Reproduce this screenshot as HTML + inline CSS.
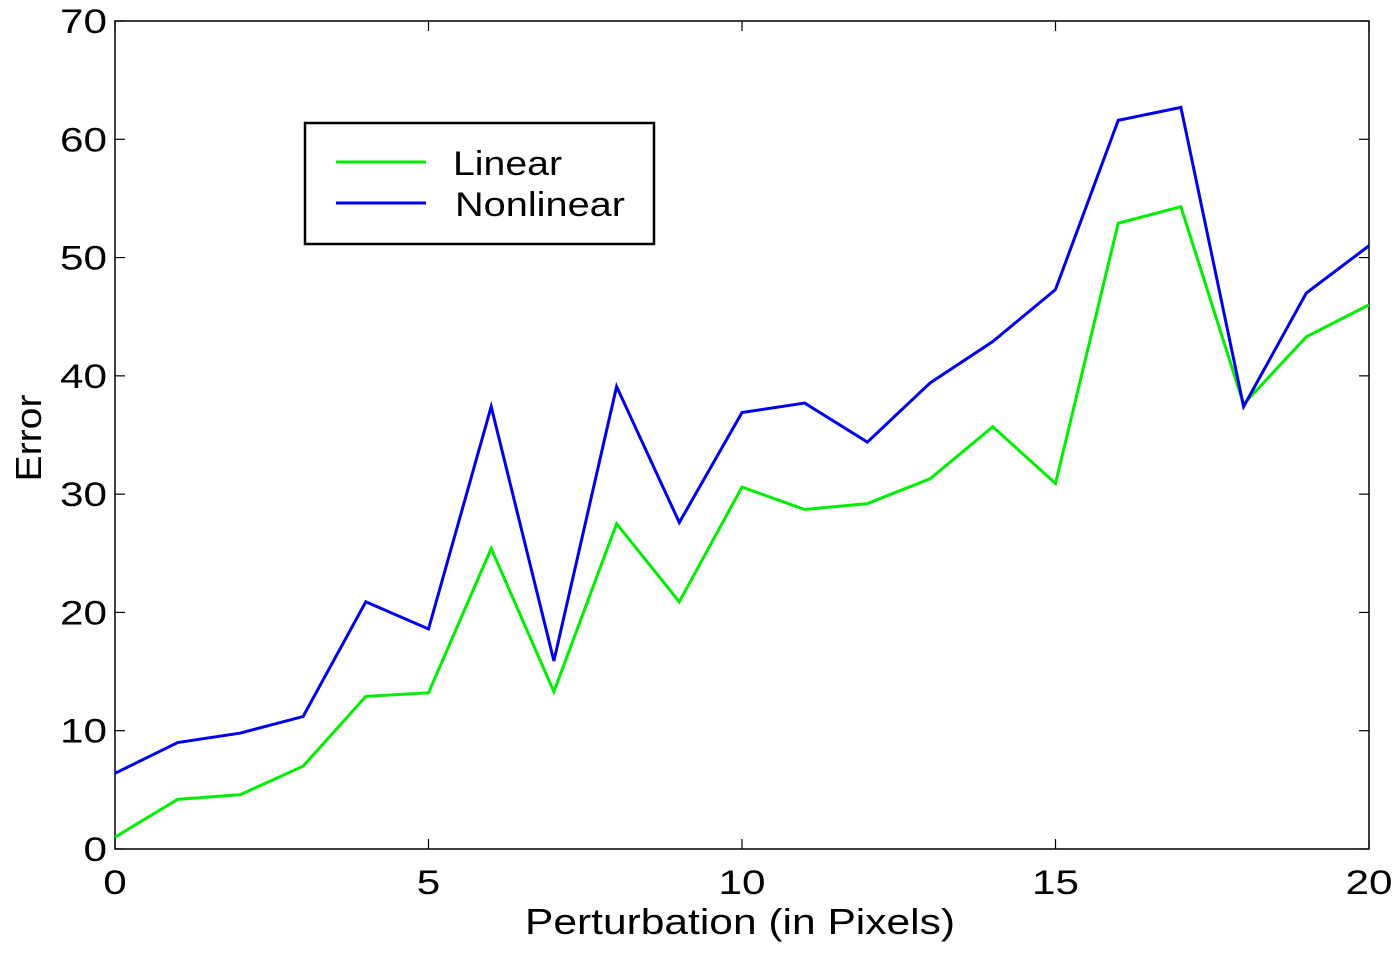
<!DOCTYPE html>
<html><head><meta charset="utf-8"><style>
html,body{margin:0;padding:0;background:#fff;}
svg{display:block;font-family:"Liberation Sans",sans-serif;}
</style></head><body>
<svg id="chart" width="1398" height="954"></svg>
<script>
const xValues=[0,1,2,3,4,5,6,7,8,9,10,11,12,13,14,15,16,17,18,19,20];
const linearValues=[1.0,4.2,4.6,7.0,12.9,13.2,25.4,13.3,27.5,20.9,30.6,28.7,29.2,31.3,35.7,30.9,52.9,54.3,37.6,43.3,46.0];
const nonlinearValues=[6.4,9.0,9.8,11.2,20.9,18.6,37.4,15.9,39.1,27.6,36.9,37.7,34.4,39.4,42.9,47.3,61.6,62.7,37.4,47.0,51.0];
const xTicks=[0,5,10,15,20];
const yTicks=[0,10,20,30,40,50,60,70];
const NS="http://www.w3.org/2000/svg";
const svg=document.getElementById('chart');
const L=115,R=1369,T=21,B=849;
const sx=v=>L+(v-0)/(20-0)*(R-L);
const sy=v=>B-(v-0)/(70-0)*(B-T);
function mk(tag,attrs,parent){const e=document.createElementNS(NS,tag);for(const k in attrs)e.setAttribute(k,attrs[k]);(parent||svg).appendChild(e);return e;}
const frame=mk('rect',{x:L,y:T,width:R-L,height:B-T,fill:'none',stroke:'#000','stroke-width':1.5});


xTicks.forEach(t=>{
  const x=sx(t);
  mk('line',{x1:x,y1:B,x2:x,y2:B-10,stroke:'#000','stroke-width':1.2});
  mk('line',{x1:x,y1:T,x2:x,y2:T+10,stroke:'#000','stroke-width':1.2});
  const s=String(t);
  const tx=mk('text',{x:x,y:B+45,'text-anchor':'middle','font-size':34,textLength:s.length*23.5,lengthAdjust:'spacingAndGlyphs'});
  tx.textContent=s;
  
  
});
yTicks.forEach(t=>{
  const y=sy(t);
  mk('line',{x1:L,y1:y,x2:L+10,y2:y,stroke:'#000','stroke-width':1.2});
  mk('line',{x1:R,y1:y,x2:R-10,y2:y,stroke:'#000','stroke-width':1.2});
  const s=String(t);
  const tx=mk('text',{x:L-8,y:y+12,'text-anchor':'end','font-size':34,textLength:s.length*23.5,lengthAdjust:'spacingAndGlyphs'});
  tx.textContent=s;
  
  
});
function series(vals,color,name){
  const p=mk('polyline',{points:vals.map((v,i)=>sx(xValues[i])+','+sy(v)).join(' '),fill:'none',stroke:color,'stroke-width':3,'stroke-linejoin':'miter'});
  
  
}
series(linearValues,'#00ee00','linear-line');
series(nonlinearValues,'#0000ee','nonlinear-line');
const xt=mk('text',{x:740,y:934,'text-anchor':'middle','font-size':36,textLength:430,lengthAdjust:'spacingAndGlyphs'});
xt.textContent='Perturbation (in Pixels)';


const yt=mk('text',{x:41,y:438,'text-anchor':'middle','font-size':36,textLength:87,lengthAdjust:'spacingAndGlyphs',transform:'rotate(-90 41 438)'});
yt.textContent='Error';


const lg=mk('g',{});


mk('rect',{x:305,y:123,width:349,height:121,fill:'#fff',stroke:'#000','stroke-width':2.5},lg);
mk('line',{x1:336,y1:162,x2:426,y2:162,stroke:'#00ee00','stroke-width':3},lg);
mk('line',{x1:336,y1:203,x2:426,y2:203,stroke:'#0000ee','stroke-width':3},lg);
const l1=mk('text',{x:453,y:175,'font-size':34,textLength:109,lengthAdjust:'spacingAndGlyphs'},lg);l1.textContent='Linear';


const l2=mk('text',{x:455,y:216,'font-size':34,textLength:170,lengthAdjust:'spacingAndGlyphs'},lg);l2.textContent='Nonlinear';


</script>
</body></html>
